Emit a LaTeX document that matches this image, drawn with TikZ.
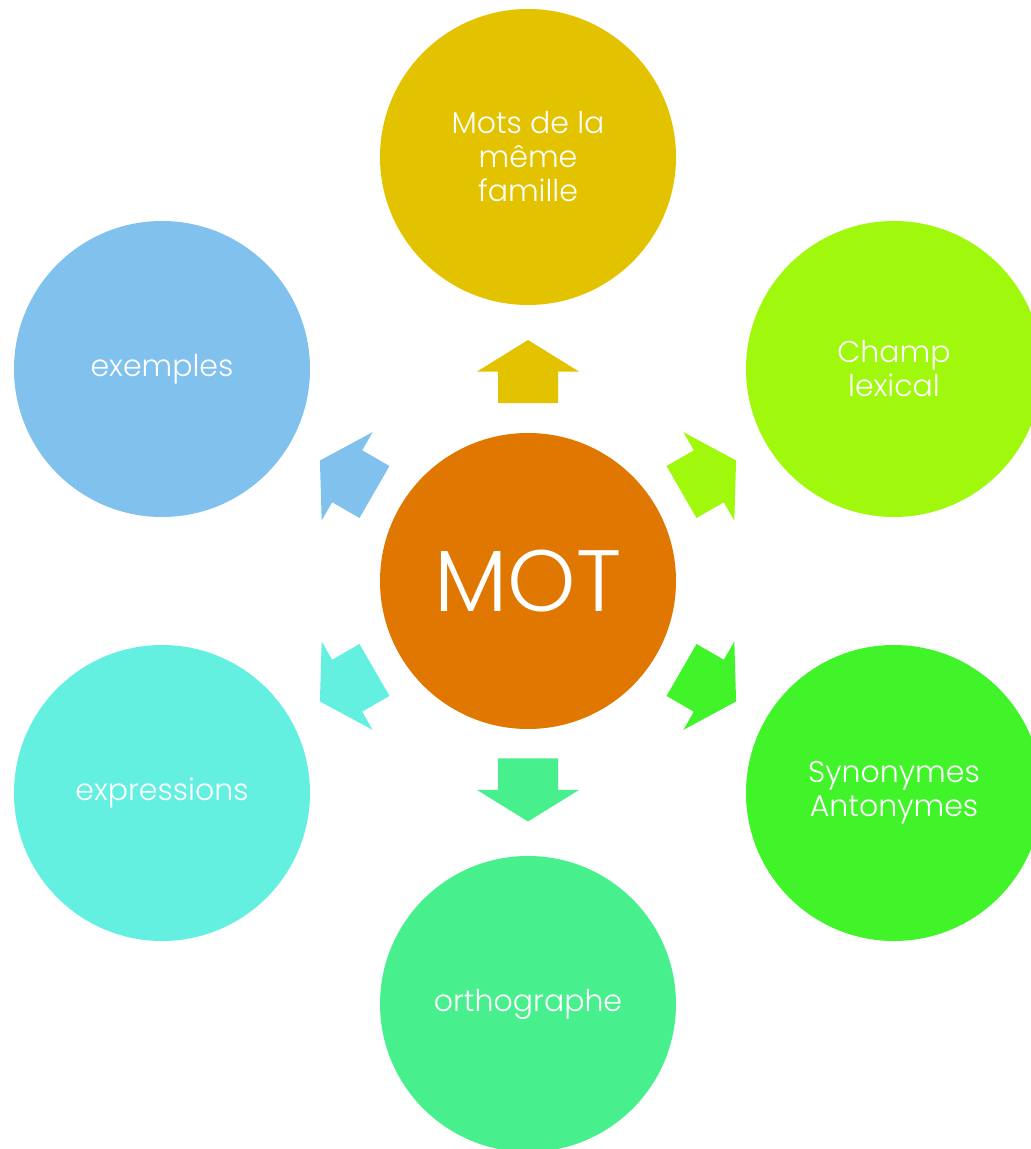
\documentclass[tikz,border=0pt]{standalone}
\usepackage{fontspec}
\setmainfont{Poppins}[UprightFont={* Light}]
\usetikzlibrary{calc}

\definecolor{motorange}{HTML}{DF7700}
\definecolor{famyellow}{HTML}{E3C300}
\definecolor{champgreen}{HTML}{A0F80C}
\definecolor{synogreen}{HTML}{41F42A}
\definecolor{orthgreen}{HTML}{48EF8D}
\definecolor{exprcyan}{HTML}{64F0E1}
\definecolor{exblue}{HTML}{80C1ED}

\tikzset{
    bubble/.style={circle, minimum size=296pt, inner sep=0pt, text=white, align=center,
        font=\fontsize{30}{34}\selectfont},
}

\begin{document}
\begin{tikzpicture}[x=1pt, y=1pt]
    \useasboundingbox (0,0) rectangle (1031,1149);

    \node[bubble, fill=motorange, font=\fontsize{87}{90}\selectfont] (mot) at (528,568) {MOT};
    \node[bubble, fill=famyellow] (famille) at (528,992) {Mots de la\\même\\famille};
    \node[bubble, fill=champgreen] (champ) at (894,780) {Champ\\lexical};
    \node[bubble, fill=synogreen] (syno) at (894,356) {Synonymes\\Antonymes};
    \node[bubble, fill=orthgreen] (ortho) at (528,145) {orthographe};
    \node[bubble, fill=exprcyan] (expr) at (162,356) {expressions};
    \node[bubble, fill=exblue] (ex) at (162,780) {exemples};

    % block arrows from the centre outwards
    \foreach \n/\ang/\col in {famille/90/famyellow, champ/30/champgreen, syno/-30/synogreen,
                              ortho/-90/orthgreen, expr/210/exprcyan, ex/150/exblue}
        \fill[\col, shift={($(mot)!0.494!(\n)$)}, rotate=\ang]
            (-31.5,-30) -- (0,-30) -- (0,-51) -- (31.5,0) -- (0,51) -- (0,30) -- (-31.5,30) -- cycle;
\end{tikzpicture}
\end{document}
